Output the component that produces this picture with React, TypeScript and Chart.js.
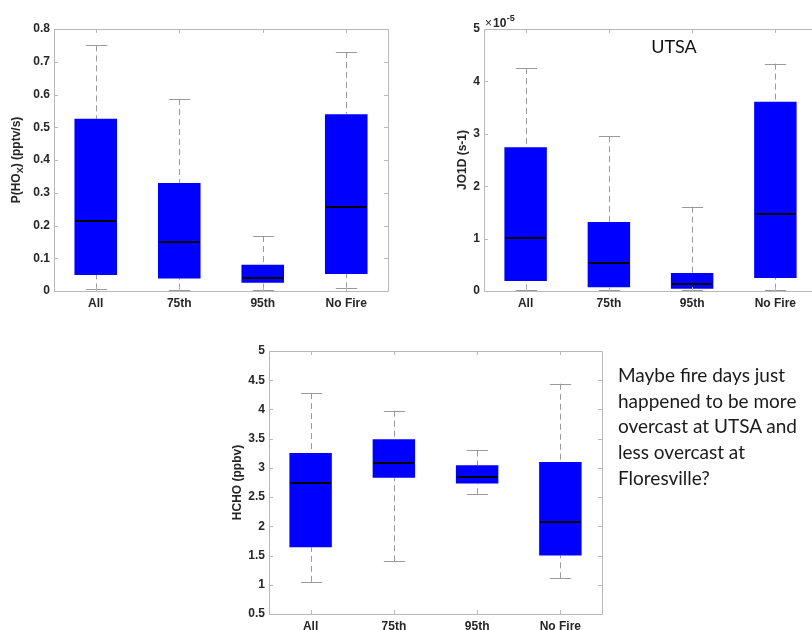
import React, { useEffect, useRef } from "react";
import { Chart, registerables } from "chart.js";

Chart.register(...registerables);

const CATEGORIES = ["All", "75th", "95th", "No Fire"];

// P(HOx) (pptv/s)
const PHOX_MIN = [0.005, 0.004, 0.004, 0.008];
const PHOX_Q1 = [0.049, 0.038, 0.025, 0.052];
const PHOX_MED = [0.214, 0.149, 0.04, 0.258];
const PHOX_Q3 = [0.526, 0.33, 0.08, 0.54];
const PHOX_MAX = [0.75, 0.586, 0.168, 0.73];
const PHOX_TICKS = [0, 0.1, 0.2, 0.3, 0.4, 0.5, 0.6, 0.7, 0.8];

// JO1D (s-1), in units of 1e-5
const JO1D_MIN = [0.01, 0.01, 0.01, 0.025];
const JO1D_Q1 = [0.19, 0.07, 0.045, 0.25];
const JO1D_MED = [1.007, 0.54, 0.14, 1.465];
const JO1D_Q3 = [2.745, 1.318, 0.344, 3.61];
const JO1D_MAX = [4.255, 2.955, 1.61, 4.34];
const JO1D_TICKS = [0, 1, 2, 3, 4, 5];
const JO1D_EXPONENT = "-5";

// HCHO (ppbv)
const HCHO_MIN = [1.05, 1.4, 2.55, 1.11];
const HCHO_Q1 = [1.64, 2.83, 2.733, 1.5];
const HCHO_MED = [2.738, 3.085, 2.836, 2.08];
const HCHO_Q3 = [3.256, 3.49, 3.046, 3.1];
const HCHO_MAX = [4.28, 3.98, 3.3, 4.44];
const HCHO_TICKS = [0.5, 1, 1.5, 2, 2.5, 3, 3.5, 4, 4.5, 5];

const NOTE_LINES = [
  "Maybe fire days just",
  "happened to be more",
  "overcast at UTSA and",
  "less overcast at",
  "Floresville?",
];

const TICK_FONT = { family: "'Liberation Sans', Arial, sans-serif", size: 12, weight: "bold" as const };
const TEXT_COLOR = "#262626";
const AXIS_COLOR = "#b8b8b8";
const WHISKER_COLOR = "#9a9a9a";

const axesPlugin = {
  id: "matlabAxes",
  afterDatasetsDraw(chart: any) {
    const { ctx, chartArea } = chart;
    const { left, right, top, bottom } = chartArea;
    const xs = chart.scales.x;
    const ys = chart.scales.y;
    ctx.save();
    ctx.strokeStyle = AXIS_COLOR;
    ctx.lineWidth = 1;
    ctx.beginPath();
    ctx.rect(Math.round(left) + 0.5, Math.round(top) + 0.5, Math.round(right - left), Math.round(bottom - top));
    ctx.stroke();
    const tl = 4;
    ctx.beginPath();
    ys.ticks.forEach((t: any) => {
      const y = Math.round(ys.getPixelForValue(t.value)) + 0.5;
      ctx.moveTo(left, y);
      ctx.lineTo(left + tl, y);
      ctx.moveTo(right, y);
      ctx.lineTo(right - tl, y);
    });
    CATEGORIES.forEach((_, i) => {
      const x = Math.round(xs.getPixelForValue(i)) + 0.5;
      ctx.moveTo(x, bottom);
      ctx.lineTo(x, bottom - tl);
      ctx.moveTo(x, top);
      ctx.lineTo(x, top + tl);
    });
    ctx.stroke();
    ctx.restore();
  },
};

const boxPlugin = {
  id: "boxWhisker",
  beforeDatasetsDraw(chart: any, _args: any, opts: any) {
    const { ctx } = chart;
    const ys = chart.scales.y;
    const meta = chart.getDatasetMeta(0);
    ctx.save();
    ctx.strokeStyle = WHISKER_COLOR;
    ctx.lineWidth = 1;
    meta.data.forEach((bar: any, i: number) => {
      const x = Math.round(bar.x) + 0.5;
      const capHalf = bar.width / 4;
      const yMax = ys.getPixelForValue(opts.high[i]);
      const yQ3 = ys.getPixelForValue(opts.q3[i]);
      const yQ1 = ys.getPixelForValue(opts.q1[i]);
      const yMin = ys.getPixelForValue(opts.low[i]);
      ctx.setLineDash([6, 4]);
      ctx.beginPath();
      ctx.moveTo(x, yMax);
      ctx.lineTo(x, yQ3);
      ctx.moveTo(x, yMin);
      ctx.lineTo(x, yQ1);
      ctx.stroke();
      ctx.setLineDash([]);
      ctx.beginPath();
      ctx.moveTo(x - capHalf, Math.round(yMax) + 0.5);
      ctx.lineTo(x + capHalf, Math.round(yMax) + 0.5);
      ctx.moveTo(x - capHalf, Math.round(yMin) + 0.5);
      ctx.lineTo(x + capHalf, Math.round(yMin) + 0.5);
      ctx.stroke();
    });
    ctx.restore();
  },
  afterDatasetsDraw(chart: any, _args: any, opts: any) {
    const { ctx } = chart;
    const ys = chart.scales.y;
    const meta = chart.getDatasetMeta(0);
    ctx.save();
    ctx.strokeStyle = "#000000";
    ctx.lineWidth = 2;
    meta.data.forEach((bar: any, i: number) => {
      const y = Math.round(ys.getPixelForValue(opts.med[i]));
      ctx.beginPath();
      ctx.moveTo(bar.x - bar.width / 2 + 1, y);
      ctx.lineTo(bar.x + bar.width / 2 - 1, y);
      ctx.stroke();
    });
    ctx.restore();
  },
};

const yTitlePlugin = {
  id: "yTitle",
  afterDraw(chart: any, _args: any, opts: any) {
    const { ctx, chartArea } = chart;
    const parts: { t: string; sub?: boolean }[] = opts.parts;
    const fam = "'Liberation Sans', Arial, sans-serif";
    ctx.save();
    ctx.translate(opts.x, (chartArea.top + chartArea.bottom) / 2);
    ctx.rotate(-Math.PI / 2);
    ctx.fillStyle = TEXT_COLOR;
    ctx.textBaseline = "middle";
    ctx.textAlign = "left";
    let total = 0;
    parts.forEach((p) => {
      ctx.font = `bold ${p.sub ? 9 : 12}px ${fam}`;
      total += ctx.measureText(p.t).width;
    });
    let cx = -total / 2;
    parts.forEach((p) => {
      ctx.font = `bold ${p.sub ? 9 : 12}px ${fam}`;
      ctx.fillText(p.t, cx, p.sub ? 4 : 0);
      cx += ctx.measureText(p.t).width;
    });
    ctx.restore();
    if (opts.exponent) {
      ctx.save();
      ctx.fillStyle = TEXT_COLOR;
      ctx.textAlign = "left";
      ctx.textBaseline = "alphabetic";
      const x0 = chartArea.left + 1;
      ctx.font = `12px ${fam}`;
      ctx.fillText("\u00d7", x0, 27);
      const wx = ctx.measureText("\u00d7").width + 1;
      ctx.font = `bold 12px ${fam}`;
      ctx.fillText("10", x0 + wx, 27);
      const w = wx + ctx.measureText("10").width;
      ctx.font = `bold 9px ${fam}`;
      ctx.fillText(opts.exponent, x0 + w + 0.5, 21);
      ctx.restore();
    }
  },
};

type Cfg = {
  low: number[];
  q1: number[];
  med: number[];
  q3: number[];
  high: number[];
  ticks: number[];
  min: number;
  max: number;
  yWidth: number;
  xHeight: number;
  padding: { left: number; right: number; top: number; bottom: number };
  titleX: number;
  titleParts: { t: string; sub?: boolean }[];
  exponent?: string;
};

function BoxChart({ cfg, width, height, left, top }: { cfg: Cfg; width: number; height: number; left: number; top: number }) {
  const ref = useRef<HTMLCanvasElement | null>(null);
  useEffect(() => {
    if (!ref.current) return;
    const chart = new Chart(ref.current, {
      type: "bar",
      data: {
        labels: CATEGORIES,
        datasets: [
          {
            data: CATEGORIES.map((_, i) => [cfg.q1[i], cfg.q3[i]]) as any,
            backgroundColor: "#0000ff",
            borderWidth: 0,
            barPercentage: 0.51,
            categoryPercentage: 1,
            grouped: false,
          },
        ],
      },
      options: {
        animation: false,
        responsive: false,
        layout: { padding: cfg.padding },
        plugins: {
          legend: { display: false },
          tooltip: { enabled: false },
          boxWhisker: { low: cfg.low, q1: cfg.q1, med: cfg.med, q3: cfg.q3, high: cfg.high },
          yTitle: { x: cfg.titleX, parts: cfg.titleParts, exponent: cfg.exponent },
        } as any,
        scales: {
          x: {
            type: "category",
            offset: true,
            grid: { display: false, drawTicks: false },
            border: { display: false },
            ticks: { font: TICK_FONT, color: TEXT_COLOR, padding: 5, maxRotation: 0 },
            afterFit: (s: any) => {
              s.height = cfg.xHeight;
            },
          },
          y: {
            type: "linear",
            min: cfg.min,
            max: cfg.max,
            grid: { display: false, drawTicks: false },
            border: { display: false },
            afterBuildTicks: (s: any) => {
              s.ticks = cfg.ticks.map((v) => ({ value: v }));
            },
            ticks: {
              font: TICK_FONT,
              color: TEXT_COLOR,
              padding: 4,
              callback: (v: any) => String(+Number(v).toFixed(3)),
            },
            afterFit: (s: any) => {
              s.width = cfg.yWidth;
            },
          },
        },
      },
      plugins: [boxPlugin, axesPlugin, yTitlePlugin],
    });
    return () => chart.destroy();
  }, []);
  return (
    <canvas
      ref={ref}
      width={width}
      height={height}
      style={{ position: "absolute", left, top, width, height, display: "block" }}
    />
  );
}

const PHOX_CFG: Cfg = {
  low: PHOX_MIN,
  q1: PHOX_Q1,
  med: PHOX_MED,
  q3: PHOX_Q3,
  high: PHOX_MAX,
  ticks: PHOX_TICKS,
  min: 0,
  max: 0.8,
  yWidth: 54,
  xHeight: 29,
  padding: { left: 0, right: 12, top: 29, bottom: 0 },
  titleX: 17,
  titleParts: [{ t: "P(HO" }, { t: "X", sub: true }, { t: ") (pptv/s)" }],
};

const JO1D_CFG: Cfg = {
  low: JO1D_MIN,
  q1: JO1D_Q1,
  med: JO1D_MED,
  q3: JO1D_Q3,
  high: JO1D_MAX,
  ticks: JO1D_TICKS,
  min: 0,
  max: 5,
  yWidth: 84,
  xHeight: 29,
  padding: { left: 0, right: 23, top: 29, bottom: 0 },
  titleX: 63,
  titleParts: [{ t: "JO1D (s-1)" }],
  exponent: JO1D_EXPONENT,
};

const HCHO_CFG: Cfg = {
  low: HCHO_MIN,
  q1: HCHO_Q1,
  med: HCHO_MED,
  q3: HCHO_Q3,
  high: HCHO_MAX,
  ticks: HCHO_TICKS,
  min: 0.5,
  max: 5,
  yWidth: 69,
  xHeight: 26,
  padding: { left: 0, right: 18, top: 21, bottom: 0 },
  titleX: 38,
  titleParts: [{ t: "HCHO (ppbv)" }],
};

export default function App() {
  return (
    <div
      style={{
        position: "absolute",
        left: 0,
        top: 0,
        width: 812,
        height: 630,
        overflow: "hidden",
        background: "#ffffff",
      }}
    >
      <BoxChart cfg={PHOX_CFG} width={400} height={320} left={0} top={0} />
      <BoxChart cfg={JO1D_CFG} width={440} height={320} left={400} top={0} />
      <BoxChart cfg={HCHO_CFG} width={420} height={310} left={200} top={330} />
      <div
        style={{
          position: "absolute",
          left: 624,
          top: 36,
          width: 100,
          textAlign: "center",
          fontFamily: "Lato, 'Open Sans', sans-serif",
          fontSize: 18,
          lineHeight: "20px",
          color: "#111111",
        }}
      >
        UTSA
      </div>
      <div
        style={{
          position: "absolute",
          left: 618,
          top: 362,
          fontFamily: "Lato, 'Open Sans', sans-serif",
          fontSize: 19,
          lineHeight: "25.7px",
          color: "#1a1a1a",
          whiteSpace: "pre",
        }}
      >
        {NOTE_LINES.map((l, i) => (
          <div key={i}>{l}</div>
        ))}
      </div>
    </div>
  );
}
